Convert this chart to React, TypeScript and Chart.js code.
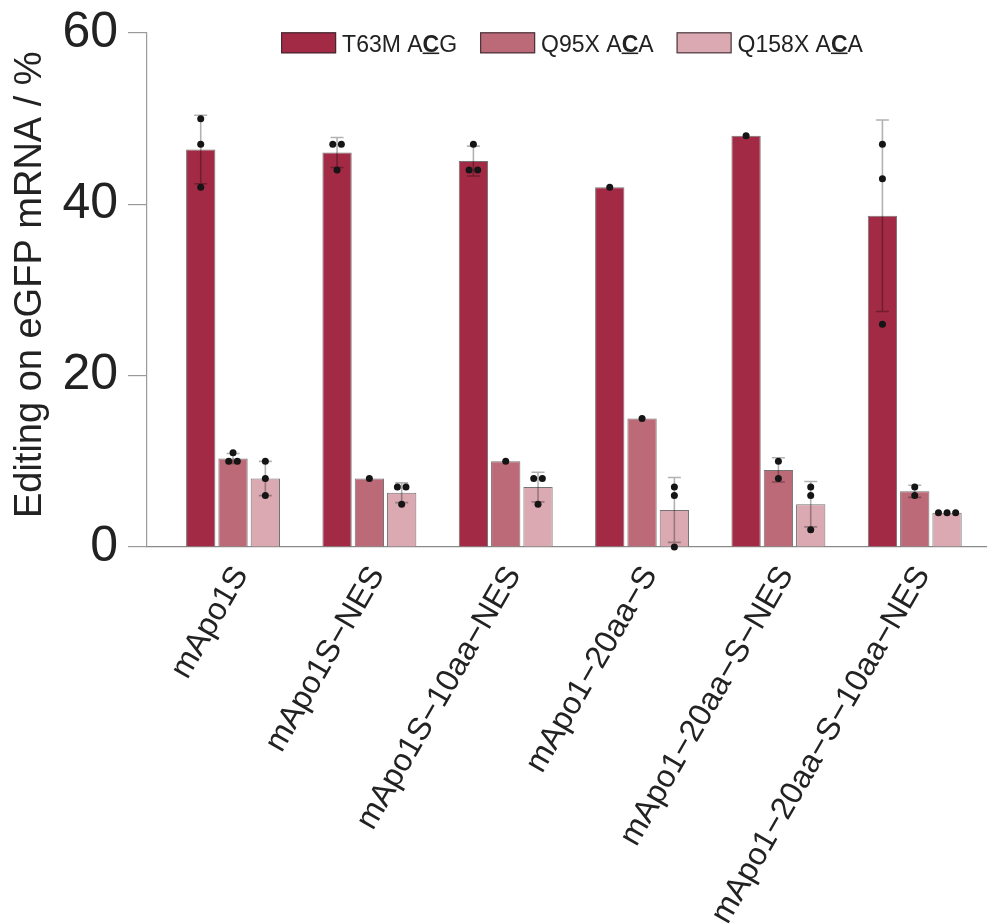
import React, { useEffect, useRef } from 'react';
import { Chart, registerables } from 'chart.js';

Chart.register(...registerables);

// ---------- data ----------
const CATEGORIES = [
  'mApo1S',
  'mApo1S−NES',
  'mApo1S−10aa−NES',
  'mApo1−20aa−S',
  'mApo1−20aa−S−NES',
  'mApo1−20aa−S−10aa−NES',
];

const SERIES_NAMES = ['T63M ACG', 'Q95X ACA', 'Q158X ACA'];
// legend text split: [before, bold+underlined, after]
const LEGEND_PARTS = [
  ['T63M A', 'C', 'G'],
  ['Q95X A', 'C', 'A'],
  ['Q158X A', 'C', 'A'],
];

const T63M_MEAN = [46.4, 46.05, 45.05, 42.0, 48.0, 38.67];
const T63M_SD = [4.0, 1.75, 1.75, 0, 0, 11.18];
const T63M_POINTS = [[50, 47, 42], [47, 47, 44], [47, 44, 44], [42], [48], [47, 43, 26]];

const Q95X_MEAN = [10.33, 8.0, 10.0, 15.0, 9.0, 6.5];
const Q95X_SD = [0.58, 0, 0, 0, 1.41, 0.71];
const Q95X_POINTS = [[11, 10, 10], [8], [10], [15], [10, 8], [7, 6]];

const Q158X_MEAN = [8.0, 6.33, 7.0, 4.33, 5.0, 4.0];
const Q158X_SD = [2.0, 1.15, 1.73, 3.79, 2.65, 0];
const Q158X_POINTS = [[10, 8, 6], [7, 7, 5], [8, 8, 5], [7, 6, 0], [7, 6, 2], [4, 4, 4]];

const Y_TICKS = [0, 20, 40, 60];
const Y_TITLE = ' Editing on eGFP mRNA / %';

const COLORS = ['#a32a45', '#bd6a78', '#dba9b2'];

const SERIES = [
  { mean: T63M_MEAN, sd: T63M_SD, points: T63M_POINTS },
  { mean: Q95X_MEAN, sd: Q95X_SD, points: Q95X_POINTS },
  { mean: Q158X_MEAN, sd: Q158X_SD, points: Q158X_POINTS },
];

// ---------- layout / style ----------
const W = 987;
const H = 924;
const FONT = '"Liberation Sans", Arial, Helvetica, sans-serif';
const X_MIN = -0.631;
const X_MAX = 5.53;

const errorAndDotsPlugin = {
  id: 'errorAndDots',
  afterDatasetsDraw(chart: any) {
    const ctx = chart.ctx;
    const ys = chart.scales.y;
    ctx.save();
    // error bars
    SERIES.forEach((s, di) => {
      const meta = chart.getDatasetMeta(di);
      meta.data.forEach((bar: any, i: number) => {
        const sd = s.sd[i];
        if (!sd) return;
        const x = bar.x;
        const yt = ys.getPixelForValue(s.mean[i] + sd);
        const yb = ys.getPixelForValue(s.mean[i] - sd);
        ctx.strokeStyle = 'rgba(0,0,0,0.3)';
        ctx.lineWidth = 1.6;
        ctx.beginPath();
        ctx.moveTo(x, yt);
        ctx.lineTo(x, yb);
        ctx.moveTo(x - 6.5, yt);
        ctx.lineTo(x + 6.5, yt);
        ctx.moveTo(x - 6.5, yb);
        ctx.lineTo(x + 6.5, yb);
        ctx.stroke();
      });
    });
    // dots (simple swarm for overlapping values)
    SERIES.forEach((s, di) => {
      const meta = chart.getDatasetMeta(di);
      meta.data.forEach((bar: any, i: number) => {
        const pts = s.points[i]
          .map((v) => ({ v, py: ys.getPixelForValue(v) }))
          .sort((a, b) => a.py - b.py);
        const clusters: { v: number; py: number }[][] = [];
        pts.forEach((p) => {
          const last = clusters[clusters.length - 1];
          if (last && Math.abs(p.py - last[last.length - 1].py) < 6) last.push(p);
          else clusters.push([p]);
        });
        ctx.fillStyle = '#151515';
        clusters.forEach((cl) => {
          cl.forEach((p, j) => {
            const dx = (j - (cl.length - 1) / 2) * 8.6;
            ctx.beginPath();
            ctx.arc(bar.x + dx, p.py, 3.5, 0, Math.PI * 2);
            ctx.fill();
          });
        });
      });
    });
    ctx.restore();
  },
};

const legendPlugin = {
  id: 'customLegend',
  afterDraw(chart: any) {
    const ctx = chart.ctx;
    const area = chart.chartArea;
    const size = 23;
    const boxW = 55;
    const boxH = 21;
    const gapBoxText = 6;
    const gapItems = 23;
    const normal = `${size}px ${FONT}`;
    const bold = `bold ${size}px ${FONT}`;
    ctx.save();
    const widths = LEGEND_PARTS.map((parts) => {
      ctx.font = normal;
      const a = ctx.measureText(parts[0]).width;
      ctx.font = bold;
      const b = ctx.measureText(parts[1]).width;
      ctx.font = normal;
      const c = ctx.measureText(parts[2]).width;
      return { a, b, c, t: a + b + c };
    });
    const total =
      widths.reduce((s, w) => s + boxW + gapBoxText + w.t, 0) + gapItems * (widths.length - 1);
    let x = (area.left + area.right) / 2 + 5 - total / 2;
    const top = area.top - 0.7;
    const baseline = top + boxH - 1.6;
    LEGEND_PARTS.forEach((parts, i) => {
      ctx.fillStyle = COLORS[i];
      ctx.fillRect(x, top, boxW, boxH);
      ctx.strokeStyle = 'rgba(50,40,45,0.85)';
      ctx.lineWidth = 1.2;
      ctx.strokeRect(x + 0.5, top + 0.5, boxW - 1, boxH - 1);
      let tx = x + boxW + gapBoxText;
      ctx.fillStyle = '#222';
      ctx.textBaseline = 'alphabetic';
      ctx.textAlign = 'left';
      ctx.font = normal;
      ctx.fillText(parts[0], tx, baseline);
      tx += widths[i].a;
      ctx.font = bold;
      ctx.fillText(parts[1], tx, baseline);
      ctx.strokeStyle = '#222';
      ctx.lineWidth = 1.6;
      ctx.beginPath();
      ctx.moveTo(tx, baseline + 1.6);
      ctx.lineTo(tx + widths[i].b, baseline + 1.6);
      ctx.stroke();
      tx += widths[i].b;
      ctx.font = normal;
      ctx.fillText(parts[2], tx, baseline);
      x += boxW + gapBoxText + widths[i].t + gapItems;
    });
    ctx.restore();
  },
};

export default function App() {
  const canvasRef = useRef<HTMLCanvasElement | null>(null);

  useEffect(() => {
    document.body.style.margin = '0';
    const canvas = canvasRef.current;
    if (!canvas) return;
    Chart.defaults.font.family = FONT;
    const chart = new Chart(canvas, {
      type: 'bar',
      data: {
        datasets: SERIES.map((s, di) => ({
          label: SERIES_NAMES[di],
          data: s.mean.map((m, i) => ({ x: i, y: m })),
          backgroundColor: COLORS[di],
          borderColor: 'rgba(60,55,58,0.7)',
          borderWidth: 1,
          categoryPercentage: 0.711,
          barPercentage: 0.907,
        })),
      },
      options: {
        responsive: false,
        animation: false,
        devicePixelRatio: 1,
        layout: { padding: { top: 33, left: 0, right: 0, bottom: 0 } },
        plugins: {
          legend: { display: false },
          tooltip: { enabled: false },
        },
        scales: {
          x: {
            type: 'linear',
            min: X_MIN,
            max: X_MAX,
            offset: false,
            afterBuildTicks: (s: any) => {
              s.ticks = CATEGORIES.map((_, i) => ({ value: i }));
            },
            afterFit: (s: any) => {
              s.height = H - 547;
            },
            grid: { display: false, drawTicks: false },
            border: { display: true, color: '#8a8a8a', width: 1.2 },
            ticks: {
              autoSkip: false,
              minRotation: 60,
              maxRotation: 60,
              labelOffset: 8,
              padding: 13,
              color: '#222',
              font: { size: 32, family: FONT },
              callback: (v: any) => CATEGORIES[v as number] ?? '',
            },
          },
          y: {
            min: 0,
            max: 60,
            afterBuildTicks: (s: any) => {
              s.ticks = Y_TICKS.map((v) => ({ value: v }));
            },
            afterFit: (s: any) => {
              s.width = 147;
              s.paddingTop = 0;
              s.paddingBottom = 0;
            },
            grid: {
              display: true,
              drawOnChartArea: false,
              drawTicks: true,
              tickLength: 19,
              color: '#9a9a9a',
              lineWidth: 1.2,
            },
            border: { display: true, color: '#9a9a9a', width: 1.2 },
            ticks: {
              padding: 10,
              color: '#222',
              font: { size: 50, family: FONT },
            },
            title: {
              display: true,
              text: Y_TITLE,
              color: '#222',
              font: { size: 38, family: FONT },
              padding: { top: 8, bottom: 0 },
            },
          },
        },
      } as any,
      plugins: [errorAndDotsPlugin, legendPlugin],
    });
    return () => chart.destroy();
  }, []);

  return (
    <div style={{ width: W, height: H, background: '#fff' }}>
      <canvas ref={canvasRef} width={W} height={H} style={{ display: 'block' }} />
    </div>
  );
}
